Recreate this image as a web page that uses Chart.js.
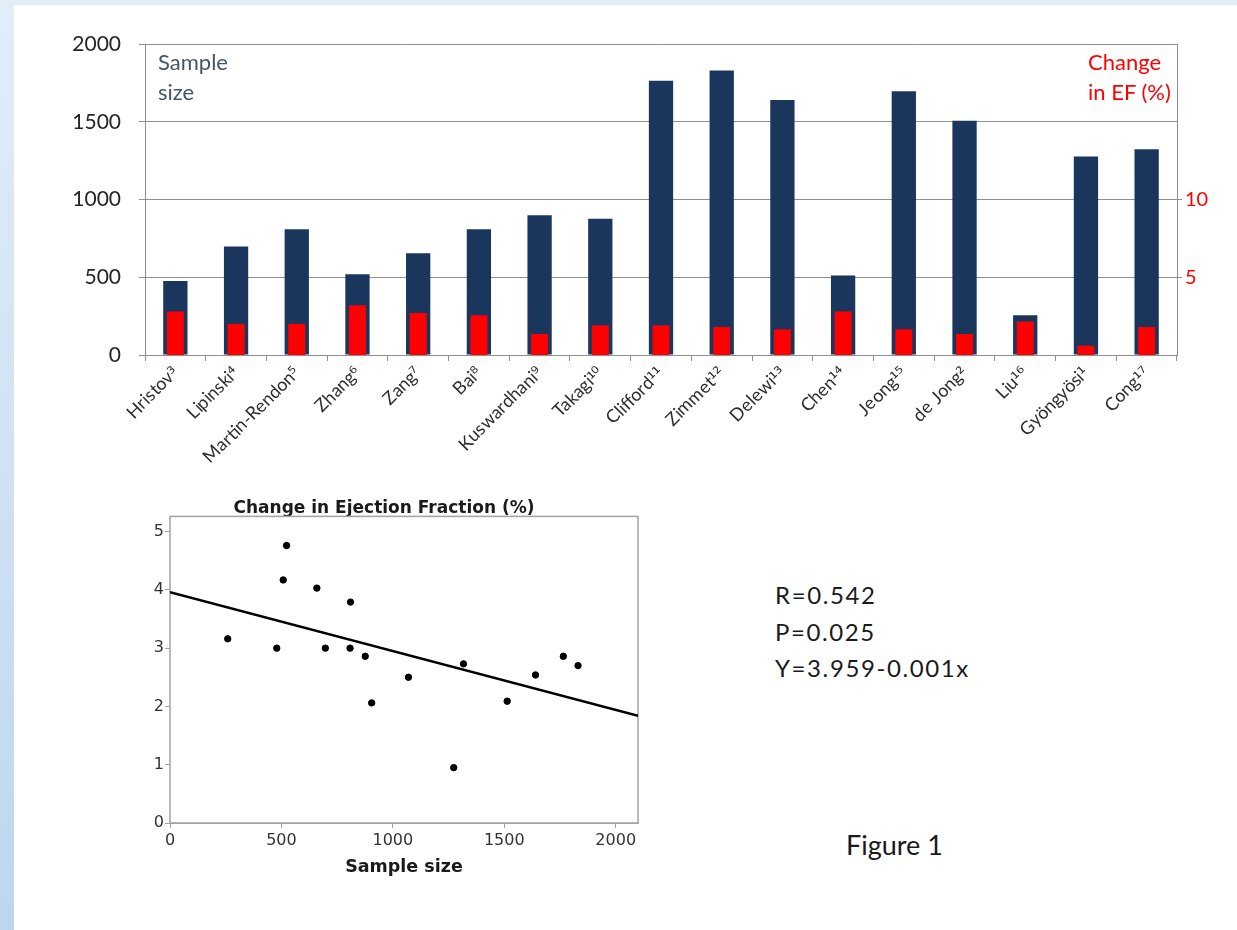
<!DOCTYPE html>
<html>
<head>
<meta charset="utf-8">
<script src="https://cdn.jsdelivr.net/npm/chart.js@4.4.1/dist/chart.umd.min.js"></script>
<style>
  /* study names in Lato, reference numbers from DejaVu (bigger superscript digits) */
  @font-face { font-family: 'StudyLabel'; src: local('DejaVu Sans'); unicode-range: U+00B2-00B3, U+00B9, U+2070-2079; }
  @font-face { font-family: 'StudyLabel'; src: local('Lato Regular'), local('Lato'); unicode-range: U+0000-00B1, U+00B4-00B8, U+00BA-024F; }
  html, body { margin: 0; padding: 0; }
  body {
    width: 1237px; height: 930px; overflow: hidden; position: relative;
    background: linear-gradient(to bottom, #e2edf8, #bdd6ee);
    font-family: Lato, 'Open Sans', sans-serif;
  }
  #sheet { position: absolute; left: 14px; top: 5px; right: 0; bottom: 0; background: #fff; }
  canvas { position: absolute; }
  #barChart { left: 14px; top: 5px; }
  #fitChart { left: 130px; top: 480px; }
  .note { position: absolute; white-space: pre; }
  #leftNote { left: 158px; top: 47px; font-size: 22px; line-height: 30px; color: #44546a; }
  #rightNote { left: 1088px; top: 47px; font-size: 22px; line-height: 30px; color: #ff0000; }
  #stats { left: 775px; top: 577px; font-size: 24px; line-height: 36.5px; letter-spacing: 1.6px; color: #1a1a1a; }
  #figLabel { left: 846px; top: 829px; font-size: 27px; line-height: 1.2; color: #1a1a1a; }
</style>
</head>
<body>
<div id="sheet"></div>
<canvas id="barChart" width="1223" height="470"></canvas>
<canvas id="fitChart" width="530" height="410"></canvas>
<div class="note" id="leftNote">Sample
size</div>
<div class="note" id="rightNote">Change
in EF (%)</div>
<div class="note" id="stats">R=0.542
P=0.025
Y=3.959-0.001x</div>
<div class="note" id="figLabel">Figure 1</div>

<script>
// ---- data ----

// studies (reference number as superscript)
const studies = [
  'Hristov³', 'Lipinski⁴', 'Martin-Rendon⁵', 'Zhang⁶', 'Zang⁷', 'Bai⁸',
  'Kuswardhani⁹', 'Takagi¹⁰', 'Clifford¹¹', 'Zimmet¹²', 'Delewi¹³', 'Chen¹⁴',
  'Jeong¹⁵', 'de Jong²', 'Liu¹⁶', 'Gyöngyösi¹', 'Cong¹⁷'
];
const sampleSizes = [476, 698, 808, 519, 655, 808, 898, 876, 1764, 1830, 1640, 512, 1696, 1507, 255, 1276, 1323];
const efChange = [2.8, 2.0, 2.0, 3.2, 2.7, 2.55, 1.35, 1.9, 1.9, 1.8, 1.65, 2.8, 1.65, 1.35, 2.15, 0.6, 1.8];

// scatter: sample size vs change in ejection fraction
const scatterSize = [259, 479, 508, 523, 659, 697, 810, 808, 876, 905, 1070, 1273, 1317, 1513, 1640, 1765, 1831];
const scatterEF = [3.16, 3.0, 4.17, 4.76, 4.03, 3.0, 3.79, 3.0, 2.86, 2.06, 2.5, 0.95, 2.73, 2.09, 2.54, 2.86, 2.7];

// fitted line end points
const fitX = [0, 2100];
const fitY = [3.96, 1.84];

// tick values
const barLeftTicks = [0, 500, 1000, 1500, 2000];
const barRightLabels = [5, 10];
const fitXTicks = [0, 500, 1000, 1500, 2000];
const fitYTicks = [0, 1, 2, 3, 4, 5];

Chart.defaults.font.family = "Lato, 'Open Sans', sans-serif";
Chart.defaults.animation = false;

const gridGrey = '#8f8f8f';
const plain = v => String(v);   // no thousands separator

// ---- top bar chart ----
function drawBarChart() {
  new Chart(document.getElementById('barChart').getContext('2d'), {
    type: 'bar',
    data: {
      labels: studies,
      datasets: [
        {
          label: 'Change in EF (%)',
          data: efChange,
          yAxisID: 'y1',
          backgroundColor: '#ff0000',
          barPercentage: 0.28,
          categoryPercentage: 1,
          order: 0
        },
        {
          label: 'Sample size',
          data: sampleSizes,
          yAxisID: 'y',
          backgroundColor: '#1b365d',
          barPercentage: 0.4,
          categoryPercentage: 1,
          order: 1
        }
      ]
    },
    options: {
      responsive: false,
      layout: { padding: { top: 39, left: 0, right: 0, bottom: 0 } },
      datasets: { bar: { grouped: false } },
      plugins: { legend: { display: false }, tooltip: { enabled: false } },
      scales: {
        x: {
          afterFit: s => { s.height = 120; },
          grid: { offset: true, drawOnChartArea: false, tickLength: 6, color: gridGrey },
          border: { display: true, color: gridGrey },
          ticks: {
            autoSkip: false, minRotation: 45, maxRotation: 45, padding: 1,
            color: '#2e2e2e', font: { family: "StudyLabel, Lato, sans-serif", size: 18 }
          }
        },
        y: {
          position: 'left',
          min: 0, max: 2000,
          afterFit: s => { s.width = 131; },
          afterBuildTicks: s => { s.ticks = barLeftTicks.map(value => ({ value })); },
          grid: { color: gridGrey, tickLength: 6 },
          border: { color: gridGrey },
          ticks: { padding: 18, color: '#262626', font: { size: 21 }, callback: plain }
        },
        y1: {
          position: 'right',
          min: 0, max: 20,
          afterFit: s => { s.width = 60; },
          afterBuildTicks: s => { s.ticks = barRightLabels.map(value => ({ value })); },
          grid: { drawOnChartArea: false, tickLength: 5, color: gridGrey },
          border: { display: true, color: gridGrey },
          ticks: { padding: 3, color: '#ff0000', font: { size: 20 }, callback: plain }
        }
      }
    }
  });
}

// ---- bottom scatter with fitted line ----

// white plot area and grey frame (title descenders sit under it)
const plotFrame = {
  id: 'plotFrame',
  beforeDatasetsDraw(chart) {
    const { ctx, chartArea: a } = chart;
    ctx.save();
    ctx.fillStyle = '#fff';
    ctx.fillRect(a.left, a.top, a.right - a.left, a.bottom - a.top);
    ctx.strokeStyle = '#a3a3a3';
    ctx.lineWidth = 1.5;
    ctx.strokeRect(a.left, a.top, a.right - a.left, a.bottom - a.top);
    ctx.restore();
  }
};

const spssFont = "'DejaVu Sans', sans-serif";

function drawFitChart() {
  new Chart(document.getElementById('fitChart').getContext('2d'), {
    type: 'scatter',
    data: {
      datasets: [
        {
          label: 'Studies',
          data: scatterSize.map((x, i) => ({ x, y: scatterEF[i] })),
          backgroundColor: '#000',
          borderColor: '#000',
          pointRadius: 3.2,
          order: 0
        },
        {
          type: 'line',
          label: 'Fit',
          data: fitX.map((x, i) => ({ x, y: fitY[i] })),
          borderColor: '#000',
          borderWidth: 2.5,
          pointRadius: 0,
          order: 1
        }
      ]
    },
    plugins: [plotFrame],
    options: {
      responsive: false,
      layout: { padding: { top: 0, left: 0, right: 22, bottom: 0 } },
      plugins: {
        legend: { display: false },
        tooltip: { enabled: false },
        title: {
          display: true,
          text: 'Change in Ejection Fraction (%)',
          color: '#1a1a1a',
          font: { family: spssFont, size: 17, weight: 'bold' },
          padding: { top: 18, bottom: -2 }
        }
      },
      scales: {
        x: {
          type: 'linear',
          min: 0, max: 2100,
          afterFit: s => { s.height = 67; },
          afterBuildTicks: s => { s.ticks = fitXTicks.map(value => ({ value })); },
          grid: { drawOnChartArea: false, tickLength: 5, color: '#a3a3a3' },
          border: { color: '#a3a3a3' },
          ticks: { padding: 3, color: '#333', font: { family: spssFont, size: 16 }, callback: plain },
          title: {
            display: true,
            text: 'Sample size',
            color: '#1a1a1a',
            font: { family: spssFont, size: 17.5, weight: 'bold' },
            padding: { top: 0, bottom: 12 }
          }
        },
        y: {
          min: 0, max: 5.26,
          afterFit: s => { s.width = 40; },
          afterBuildTicks: s => { s.ticks = fitYTicks.map(value => ({ value })); },
          grid: { drawOnChartArea: false, tickLength: 5, color: '#a3a3a3' },
          border: { color: '#a3a3a3' },
          ticks: { padding: 1, color: '#333', font: { family: spssFont, size: 16 }, callback: plain }
        }
      }
    }
  });
}

// wait for the label font faces, draw anyway if that fails
document.fonts.load('18px StudyLabel', studies.join(''))
  .catch(() => {})
  .then(() => { drawBarChart(); drawFitChart(); });
</script>
</body>
</html>
